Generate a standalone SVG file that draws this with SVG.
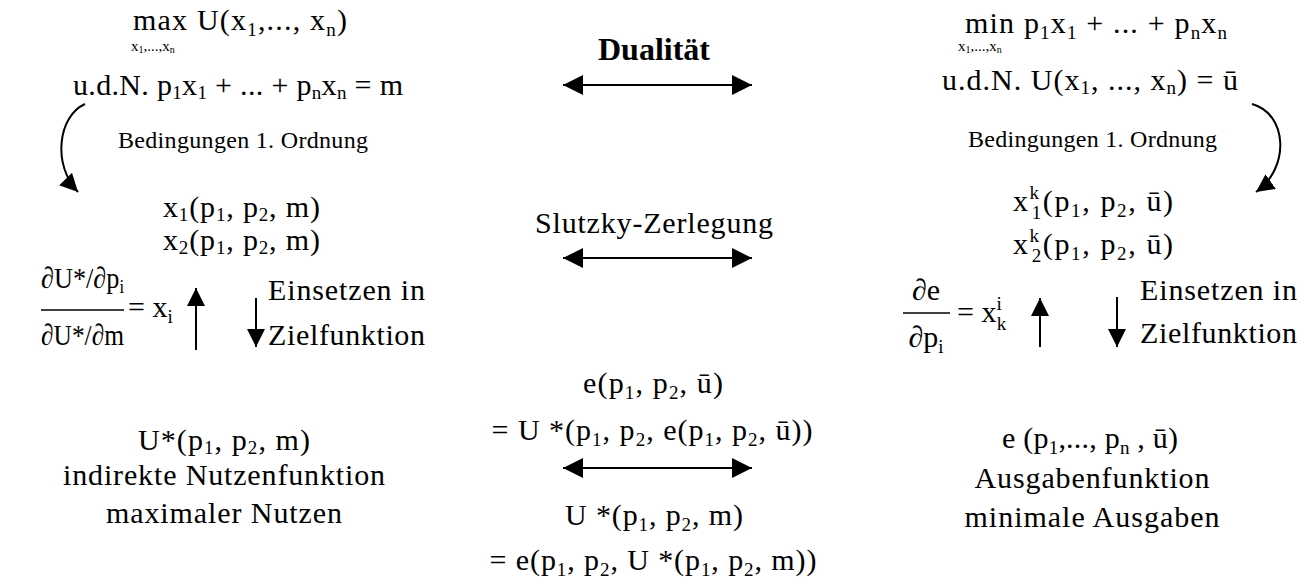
<svg xmlns="http://www.w3.org/2000/svg" width="1310" height="584" viewBox="0 0 1310 584" font-family="'Liberation Serif', 'Times New Roman', serif">
<defs>
<style>
.m{font-size:30px}
.s{font-size:24px}
.b{font-size:32px;font-weight:bold}
.c{text-anchor:middle}
.sub{font-size:19px}
.tiny{font-size:15px}
.ln{stroke:#000;stroke-width:2;fill:none}
</style>
<marker id="ah" markerUnits="userSpaceOnUse" markerWidth="20" markerHeight="20" refX="20" refY="10" orient="auto-start-reverse"><path d="M0,0 L20,10 L0,20 z" fill="#000"/></marker>
<marker id="av" markerUnits="userSpaceOnUse" markerWidth="18" markerHeight="18" refX="18" refY="9" orient="auto"><path d="M0,0 L18,9 L0,18 z" fill="#000"/></marker>
</defs>
<rect width="1310" height="584" fill="#fff"/>

<g id="primal">
<text class="m" x="133" y="30" textLength="214">max U(x<tspan class="sub" dy="6">1</tspan><tspan dy="-6">,..., x</tspan><tspan class="sub" dy="6">n</tspan><tspan dy="-6">)</tspan></text>
<text class="tiny" x="131" y="51">x<tspan font-size="10" dy="2">1</tspan><tspan dy="-2">,...,x</tspan><tspan font-size="10" dy="2">n</tspan></text>
<text class="m" x="73" y="95" textLength="330">u.d.N. p<tspan class="sub" dy="4">1</tspan><tspan dy="-4">x</tspan><tspan class="sub" dy="4">1</tspan><tspan dy="-4"> + ... + p</tspan><tspan class="sub" dy="4">n</tspan><tspan dy="-4">x</tspan><tspan class="sub" dy="4">n</tspan><tspan dy="-4"> = m</tspan></text>
</g>
<g id="primal-foc">
<text class="s" x="118" y="148" textLength="250">Bedingungen  1. Ordnung</text>
</g>
<g id="marshall">
<text class="m" x="163" y="217" textLength="157">x<tspan class="sub" dy="4">1</tspan><tspan dy="-4">(p</tspan><tspan class="sub" dy="4">1</tspan><tspan dy="-4">, p</tspan><tspan class="sub" dy="4">2</tspan><tspan dy="-4">, m)</tspan></text>
<text class="m" x="163" y="250" textLength="157">x<tspan class="sub" dy="4">2</tspan><tspan dy="-4">(p</tspan><tspan class="sub" dy="4">1</tspan><tspan dy="-4">, p</tspan><tspan class="sub" dy="4">2</tspan><tspan dy="-4">, m)</tspan></text>
</g>
<g id="roy">
<text font-size="30" x="41" y="288" textLength="83" lengthAdjust="spacingAndGlyphs">∂U*/∂p<tspan font-size="19" dy="5">i</tspan></text>
<line x1="41" y1="310" x2="124" y2="310" stroke="#000" stroke-width="1.5"/>
<text font-size="30" x="41" y="345" textLength="83" lengthAdjust="spacingAndGlyphs">∂U*/∂m</text>
<text class="m" x="128" y="317">= x<tspan class="sub" dy="6">i</tspan></text>
</g>
<g id="einsetzen-left">
<text class="m" x="268" y="300" textLength="157">Einsetzen in</text>
<text class="m" x="268" y="345" textLength="157">Zielfunktion</text>
</g>
<g id="indirect">
<text class="m c" x="224" y="450" textLength="172">U*(p<tspan class="sub" dy="4">1</tspan><tspan dy="-4">, p</tspan><tspan class="sub" dy="4">2</tspan><tspan dy="-4">, m)</tspan></text>
<text class="m c" x="224" y="485" textLength="322">indirekte Nutzenfunktion</text>
<text class="m c" x="224" y="523" textLength="236">maximaler Nutzen</text>
</g>

<g id="middle">
<text class="b c" x="654" y="60" textLength="112">Dualität</text>
<text class="m c" x="654" y="233" textLength="238">Slutzky-Zerlegung</text>
<text class="m c" x="653" y="393" textLength="140">e(p<tspan class="sub" dy="6">1</tspan><tspan dy="-6">, p</tspan><tspan class="sub" dy="6">2</tspan><tspan dy="-6">, ū)</tspan></text>
<text class="m c" x="652" y="440" textLength="321">= U *(p<tspan class="sub" dy="6">1</tspan><tspan dy="-6">, p</tspan><tspan class="sub" dy="6">2</tspan><tspan dy="-6">, e(p</tspan><tspan class="sub" dy="6">1</tspan><tspan dy="-6">, p</tspan><tspan class="sub" dy="6">2</tspan><tspan dy="-6">, ū))</tspan></text>
<text class="m c" x="654" y="525" textLength="178">U *(p<tspan class="sub" dy="6">1</tspan><tspan dy="-6">, p</tspan><tspan class="sub" dy="6">2</tspan><tspan dy="-6">, m)</tspan></text>
<text class="m c" x="653" y="570" textLength="327">= e(p<tspan class="sub" dy="6">1</tspan><tspan dy="-6">, p</tspan><tspan class="sub" dy="6">2</tspan><tspan dy="-6">, U *(p</tspan><tspan class="sub" dy="6">1</tspan><tspan dy="-6">, p</tspan><tspan class="sub" dy="6">2</tspan><tspan dy="-6">, m))</tspan></text>
</g>

<g id="dual">
<text class="m" x="965" y="33" textLength="262">min  p<tspan class="sub" dy="6">1</tspan><tspan dy="-6">x</tspan><tspan class="sub" dy="6">1</tspan><tspan dy="-6"> + ... + p</tspan><tspan class="sub" dy="6">n</tspan><tspan dy="-6">x</tspan><tspan class="sub" dy="6">n</tspan></text>
<text class="tiny" x="958" y="51">x<tspan font-size="10" dy="2">1</tspan><tspan dy="-2">,...,x</tspan><tspan font-size="10" dy="2">n</tspan></text>
<text class="m" x="942" y="90" textLength="296">u.d.N. U(x<tspan class="sub" dy="4">1</tspan><tspan dy="-4">, ..., x</tspan><tspan class="sub" dy="4">n</tspan><tspan dy="-4">) =  ū</tspan></text>
</g>
<g id="dual-foc">
<text class="s" x="968" y="147" textLength="249">Bedingungen  1. Ordnung</text>
</g>
<g id="hicks">
<text class="m" x="1013" y="211" textLength="160">x<tspan class="sub" dy="-12">k</tspan><tspan class="sub" dx="-9" dy="20">1</tspan><tspan dy="-8">(p</tspan><tspan class="sub" dy="6">1</tspan><tspan dy="-6">, p</tspan><tspan class="sub" dy="6">2</tspan><tspan dy="-6">, ū)</tspan></text>
<text class="m" x="1013" y="254" textLength="160">x<tspan class="sub" dy="-12">k</tspan><tspan class="sub" dx="-9" dy="20">2</tspan><tspan dy="-8">(p</tspan><tspan class="sub" dy="6">1</tspan><tspan dy="-6">, p</tspan><tspan class="sub" dy="6">2</tspan><tspan dy="-6">, ū)</tspan></text>
</g>
<g id="shephard">
<text class="m c" x="926" y="300">∂e</text>
<line x1="903" y1="313" x2="950" y2="313" stroke="#000" stroke-width="1.5"/>
<text class="m c" x="926" y="347">∂p<tspan class="sub" dy="6">i</tspan></text>
<text class="m" x="957" y="322">= x<tspan class="sub" dy="-12">i</tspan><tspan class="sub" dx="-5" dy="20">k</tspan></text>
</g>
<g id="einsetzen-right">
<text class="m" x="1140" y="300" textLength="157">Einsetzen in</text>
<text class="m" x="1140" y="343" textLength="157">Zielfunktion</text>
</g>
<g id="expenditure">
<text class="m c" x="1090" y="448" textLength="176">e (p<tspan class="sub" dy="6">1</tspan><tspan dy="-6">,..., p</tspan><tspan class="sub" dy="6">n</tspan><tspan dy="-6"> , ū)</tspan></text>
<text class="m c" x="1092" y="488" textLength="235">Ausgabenfunktion</text>
<text class="m c" x="1092" y="527" textLength="255">minimale Ausgaben</text>
</g>

<g id="connectors">
<path class="ln" d="M85,104 C58,116 52,165 78,192" marker-end="url(#av)"/>
<path class="ln" d="M1252,104 C1288,114 1290,168 1256,192" marker-end="url(#av)"/>
<line class="ln" x1="563" y1="85" x2="752" y2="85" marker-start="url(#ah)" marker-end="url(#ah)"/>
<line class="ln" x1="563" y1="258" x2="752" y2="258" marker-start="url(#ah)" marker-end="url(#ah)"/>
<line class="ln" x1="563" y1="468" x2="752" y2="468" marker-start="url(#ah)" marker-end="url(#ah)"/>
<line class="ln" x1="196" y1="350" x2="196" y2="288" marker-end="url(#av)"/>
<line class="ln" x1="256" y1="298" x2="256" y2="347" marker-end="url(#av)"/>
<line class="ln" x1="1040" y1="347" x2="1040" y2="298" marker-end="url(#av)"/>
<line class="ln" x1="1117" y1="297" x2="1117" y2="347" marker-end="url(#av)"/>
</g>
</svg>
